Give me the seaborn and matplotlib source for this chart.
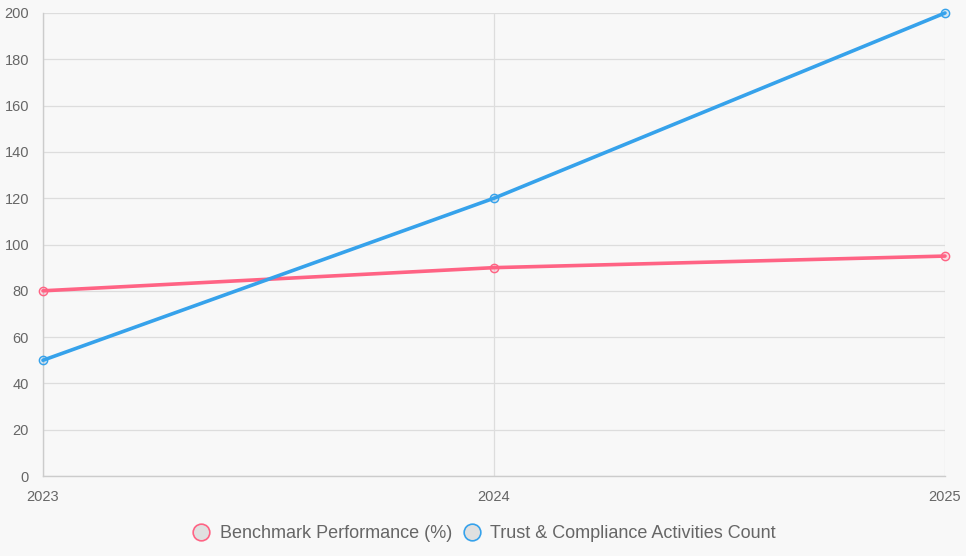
import matplotlib
matplotlib.use("Agg")
import matplotlib.pyplot as plt
from matplotlib.lines import Line2D
import seaborn as sns
import pandas as pd

years = [2023, 2024, 2025]
benchmark = [80, 90, 95]
trust = [50, 120, 200]
series_names = ["Benchmark Performance (%)", "Trust & Compliance Activities Count"]
colors = ["#ff6384", "#36a2eb"]

bg = "#f8f8f8"
sns.set_style("white")
plt.rcParams["font.family"] = ["Liberation Sans", "DejaVu Sans"]

df = pd.DataFrame({
    "year": years * 2,
    "value": benchmark + trust,
    "series": [series_names[0]] * 3 + [series_names[1]] * 3,
})

fig = plt.figure(figsize=(9.66, 5.56), dpi=100, facecolor=bg)
ax = fig.add_axes([43 / 966, 1 - 476 / 556, (945 - 43) / 966, (476 - 13) / 556])
ax.set_facecolor(bg)

sns.lineplot(data=df, x="year", y="value", hue="series", palette=colors,
             linewidth=2.6, marker="o", markersize=6, markeredgewidth=1.0,
             legend=False, ax=ax, zorder=3)
for line, c in zip(ax.lines, colors):
    line.set_markerfacecolor(matplotlib.colors.to_rgba(c, 0.2))
    line.set_markeredgecolor(c)
    line.set_clip_on(False)

ax.set_xlim(2023, 2025)
ax.set_ylim(0, 200)
ax.set_xticks(years)
ax.set_xticklabels([str(y) for y in years])
ax.set_yticks(range(0, 201, 20))
ax.grid(True, color="#dddddd", linewidth=0.9, zorder=0)
ax.set_axisbelow(True)
for s in ["top", "right"]:
    ax.spines[s].set_visible(False)
for s in ["left", "bottom"]:
    ax.spines[s].set_color("#cccccc")
    ax.spines[s].set_linewidth(1.0)
ax.tick_params(axis="both", colors="#dddddd", length=7, width=0.9,
               labelcolor="#666666", labelsize=10.5, pad=3)
ax.set_xlabel("")
ax.set_ylabel("")

handles = [Line2D([], [], linestyle="none", marker="o", markersize=12,
                  markerfacecolor="#e0e0e0", markeredgecolor=c, markeredgewidth=1.2)
           for c in colors]
fig.legend(handles, series_names, loc="center", bbox_to_anchor=(0.5, 1 - 534 / 556),
           ncol=2, frameon=False, fontsize=13, labelcolor="#666666",
           handletextpad=0.4, columnspacing=0.5, handlelength=1.2)

fig.savefig("out.png", dpi=100, facecolor=bg)
